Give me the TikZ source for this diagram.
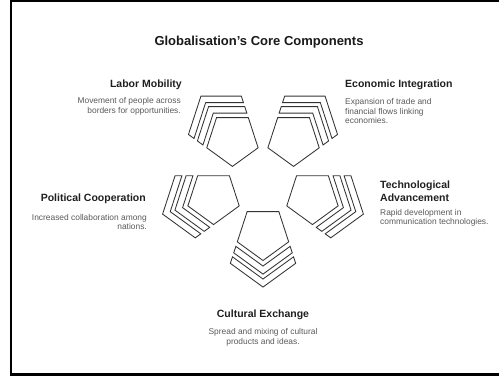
\documentclass[tikz,border=0pt]{standalone}
\usepackage{fontspec}
\setmainfont{Liberation Sans}
\newcommand\chevband[2]{%
  \draw[shp] ({#2+8.343},{25.678+0.32492*#2}) -- ({27+1.23607*#2},0)
    -- ({#2+8.343},{-25.678-0.32492*#2}) -- ({#1+8.343},{-25.678-0.32492*#1})
    -- ({27+1.23607*#1},0) -- ({#1+8.343},{25.678+0.32492*#1}) -- cycle;}
\begin{document}
\begin{tikzpicture}[x=1pt,y=1pt,
  shp/.style={draw=black!80, line width=0.85pt, line join=miter, fill=white},
  ttl/.style={font=\bfseries\fontsize{13}{15}\selectfont, text=black!90, inner sep=0},
  lbl/.style={font=\bfseries\fontsize{10.5}{13}\selectfont, text=black!88, inner sep=0},
  dsc/.style={font=\fontsize{8.4}{10}\selectfont, text=black!65, inner sep=0},
  pentagroup/.pic={
    \draw[shp] (0:27) -- (72:27) -- (144:27) -- (216:27) -- (288:27) -- cycle;
    \chevband{4.5}{11}
    \chevband{15}{21.5}
  }]
\useasboundingbox (0,0) rectangle (499,382);
\draw[line width=2.4pt] (10.7,7.5) rectangle (502,380.8);

\node[ttl, anchor=base] (title) at (259,336.5) {Globalisation's Core Components};

% pentagon groups around ring centre (263,200.5), radius 52
\pic[rotate=-90] at (263,148.5) {pentagroup};
\pic[rotate=-18] at (312.45,184.43) {pentagroup};
\pic[rotate=54] at (293.56,242.57) {pentagroup};
\pic[rotate=126] at (232.44,242.57) {pentagroup};
\pic[rotate=198] at (213.55,184.43) {pentagroup};

% Labor Mobility
\node[lbl, anchor=base east] (lm) at (182,294.5) {Labor Mobility};
\node[dsc, anchor=base east] (lm1) at (181,278) {Movement of people across};
\node[dsc, anchor=base east] (lm2) at (181,268) {borders for opportunities.};

% Economic Integration
\node[lbl, anchor=base west] (ei) at (345,294.5) {Economic Integration};
\node[dsc, anchor=base west] (ei1) at (345,277) {Expansion of trade and};
\node[dsc, anchor=base west] (ei2) at (345,267.5) {financial flows linking};
\node[dsc, anchor=base west] (ei3) at (345,258) {economies.};

% Political Cooperation
\node[lbl, anchor=base east] (pc) at (146,180.5) {Political Cooperation};
\node[dsc, anchor=base east] (pc1) at (147,161) {Increased collaboration among};
\node[dsc, anchor=base east] (pc2) at (147,152) {nations.};

% Technological Advancement
\node[lbl, anchor=base west] (ta) at (380,193.5) {Technological};
\node[lbl, anchor=base west] (ta2) at (380,180.5) {Advancement};
\node[dsc, anchor=base west] (ta3) at (380,166) {Rapid development in};
\node[dsc, anchor=base west] (ta4) at (380,157) {communication technologies.};

% Cultural Exchange
\node[lbl, anchor=base] (ce) at (263,64.5) {Cultural Exchange};
\node[dsc, anchor=base] (ce1) at (263,47) {Spread and mixing of cultural};
\node[dsc, anchor=base] (ce2) at (263,37.5) {products and ideas.};
\end{tikzpicture}
\end{document}
